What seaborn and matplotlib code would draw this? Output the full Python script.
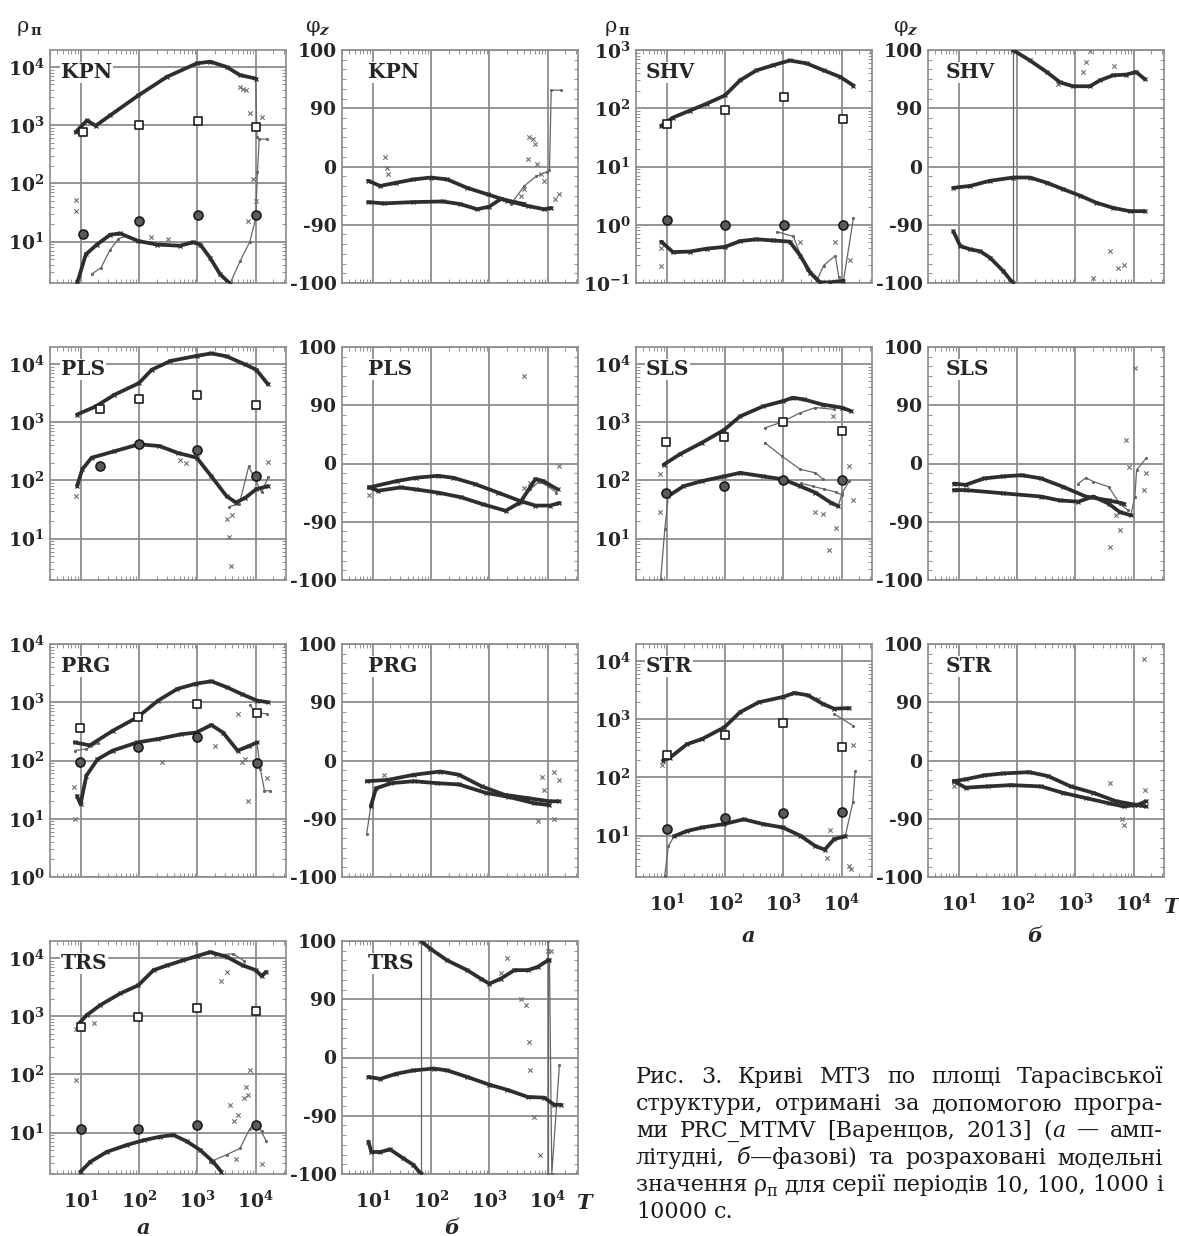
import numpy as np
import matplotlib
matplotlib.use("Agg")
import matplotlib.pyplot as plt
import seaborn as sns
from matplotlib.ticker import FixedLocator, NullFormatter, FixedFormatter, LogLocator, MultipleLocator

sns.set_style("white")
plt.rcParams["font.family"] = ["DejaVu Serif"]
plt.rcParams["mathtext.fontset"] = "custom"
plt.rcParams["mathtext.rm"] = "DejaVu Serif:bold"
plt.rcParams["mathtext.it"] = "DejaVu Serif:italic:bold"
plt.rcParams["mathtext.bf"] = "DejaVu Serif:bold"
plt.rcParams["mathtext.default"] = "rm"

# ---------------- data (log10 T, log10 rho) / (log10 T, phase deg) -------------
KPN_RHO_A = [(0.915, 2.88), (1.11, 3.08), (1.26, 2.99), (1.51, 3.17), (1.99, 3.51), (2.48, 3.83), (2.99, 4.06),
             (3.22, 4.09), (3.5, 4.0), (3.73, 3.86), (4.0, 3.8)]
KPN_RHO_B = [(0.94, 0.28), (1.09, 0.78), (1.28, 0.95), (1.51, 1.12), (1.68, 1.14), (1.99, 1.01), (2.31, 0.95),
             (2.70, 0.93), (2.93, 0.99), (3.05, 0.95), (3.22, 0.72), (3.39, 0.44), (3.56, 0.28)]
KPN_RHO_THIN1 = [(3.56, 0.28), (3.73, 0.66), (3.9, 1.0), (4.0, 1.4), (4.03, 2.2), (4.06, 2.76), (4.2, 2.76)]
KPN_RHO_THIN2 = [(1.2, 0.45), (1.35, 0.55), (1.5, 0.85), (1.65, 1.05), (1.8, 1.1)]
KPN_RHO_THIN3 = [(4.0, 3.8), (4.02, 2.8)]
KPN_RHO_PTS = [(0.915, 1.71), (0.915, 1.53), (3.95, 2.07), (4.0, 1.7), (3.87, 1.36), (3.9, 3.2), (4.1, 3.14),
               (3.84, 3.6), (3.78, 3.62), (3.73, 3.65), (2.2, 1.08), (2.5, 1.05)]
KPN_SQ_T = [1.05, 2.0, 3.01, 4.01]
KPN_SQ = [2.88, 3.0, 3.07, 2.97]
KPN_CI = [1.13, 1.36, 1.45, 1.45]
KPN_PH_A = [(0.925, -22), (1.13, -30), (1.41, -25), (1.70, -20), (2.0, -17), (2.28, -20), (2.62, -33), (2.97, -43),
            (3.31, -53), (3.66, -61), (3.94, -66), (4.06, -64)]
KPN_PH_B = [(0.925, -55), (1.2, -57), (1.7, -55), (2.2, -54), (2.5, -58), (2.79, -66), (3.0, -62), (3.2, -50),
            (3.43, -55), (3.6, -58)]
KPN_PH_THIN = [(3.37, -58), (3.6, -30), (3.8, -15), (3.99, -8), (4.03, -5), (4.06, 118), (4.22, 118)]
KPN_PH_PTS = [(1.21, 14), (1.24, -2), (1.27, -12), (3.68, 45), (3.74, 42), (3.79, 35), (3.66, 11), (3.82, 4),
              (3.88, -12), (3.94, -22), (4.2, -42), (4.12, -50), (3.6, -35), (3.55, -45)]

PLS_RHO_A = [(0.94, 3.13), (1.26, 3.27), (1.58, 3.47), (2.0, 3.67), (2.22, 3.9), (2.54, 4.05), (3.0, 4.14),
             (3.24, 4.18), (3.5, 4.13), (3.82, 3.99), (4.01, 3.9), (4.21, 3.65)]
PLS_RHO_B = [(0.94, 1.9), (1.03, 2.19), (1.19, 2.39), (1.58, 2.5), (2.0, 2.62), (2.35, 2.59), (2.67, 2.47),
             (2.99, 2.39), (3.24, 2.07), (3.5, 1.73), (3.66, 1.62), (3.82, 1.7), (4.01, 1.85), (4.21, 1.9)]
PLS_RHO_THIN1 = [(3.55, 1.55), (3.72, 1.6), (3.88, 2.24), (4.0, 2.0), (4.1, 1.8), (4.21, 2.05)]
PLS_RHO_PTS = [(0.92, 1.73), (3.55, 1.02), (3.58, 0.53), (4.21, 2.31), (3.5, 1.33), (3.6, 1.4), (2.7, 2.35), (2.8, 2.3)]
PLS_SQ_T = [1.33, 2.0, 3.0, 4.01]
PLS_SQ = [3.23, 3.39, 3.47, 3.29]
PLS_CI = [2.25, 2.63, 2.53, 2.07]
PLS_PH_A = [(0.94, -37), (1.42, -27), (1.74, -22), (2.12, -19), (2.38, -22), (2.76, -32), (3.15, -45), (3.53, -58),
            (3.79, -65), (4.04, -65), (4.2, -61)]
PLS_PH_B = [(0.94, -37), (1.1, -42), (1.48, -37), (1.74, -40), (2.12, -45), (2.51, -52), (2.89, -63), (3.28, -73),
            (3.53, -60), (3.79, -24), (3.92, -27), (4.17, -40)]
PLS_PH_THIN = [(3.5, -62), (3.7, -40), (3.85, -28), (4.0, -35), (4.15, -45)]
PLS_PH_PTS = [(3.6, 135), (4.2, -4), (3.6, -38), (3.7, -30), (0.94, -48)]

PRG_RHO_A = [(0.9, 2.31), (1.16, 2.26), (1.55, 2.51), (1.97, 2.74), (2.33, 3.03), (2.66, 3.23), (2.98, 3.32),
             (3.24, 3.36), (3.5, 3.26), (3.76, 3.14), (4.02, 3.03), (4.21, 3.0)]
PRG_RHO_B = [(0.94, 1.39), (1.0, 1.25), (1.1, 1.74), (1.29, 2.02), (1.55, 2.17), (1.97, 2.31), (2.33, 2.37),
             (2.72, 2.45), (2.98, 2.48), (3.24, 2.61), (3.44, 2.48), (3.69, 2.17), (3.89, 2.25), (4.02, 2.31)]
PRG_RHO_THIN1 = [(0.9, 2.17), (1.1, 2.2), (1.3, 2.3)]
PRG_RHO_THIN2 = [(3.9, 2.95), (4.0, 2.82), (4.2, 2.8)]
PRG_RHO_THIN3 = [(4.02, 2.31), (4.08, 1.85), (4.15, 1.48), (4.25, 1.48)]
PRG_RHO_PTS = [(0.9, 0.99), (2.4, 1.97), (3.76, 1.97), (3.86, 1.3), (4.2, 1.7), (3.31, 2.25), (3.82, 2.02),
               (0.88, 1.55), (3.7, 2.8)]
PRG_SQ_T = [0.99, 1.99, 3.0, 4.02]
PRG_SQ = [2.55, 2.74, 2.97, 2.81]
PRG_CI = [1.97, 2.24, 2.41, 1.95]
PRG_PH_A = [(0.9, -32), (1.26, -30), (1.71, -22), (2.16, -17), (2.48, -22), (2.87, -40), (3.26, -53), (3.65, -58),
            (4.03, -63), (4.19, -63)]
PRG_PH_B = [(0.97, -71), (1.06, -43), (1.32, -35), (1.71, -32), (2.1, -35), (2.48, -37), (2.94, -50),
            (3.32, -56), (3.77, -66), (4.03, -69)]
PRG_PH_THIN = [(0.9, -113), (0.97, -71)]
PRG_PH_PTS = [(4.1, -17), (3.84, -93), (4.1, -90), (1.2, -22), (3.94, -45), (3.9, -25), (4.2, -30)]

TRS_RHO_A = [(0.97, 2.87), (1.11, 3.02), (1.34, 3.19), (1.68, 3.39), (1.99, 3.53), (2.25, 3.79), (2.48, 3.87),
             (2.76, 3.96), (2.99, 4.03), (3.22, 4.1), (3.5, 4.02), (3.78, 3.87), (4.0, 3.79), (4.1, 3.69), (4.18, 3.76)]
TRS_RHO_THIN1 = [(3.3, 4.05), (3.61, 4.07), (3.8, 3.95)]
TRS_RHO_B = [(1.0, 0.33), (1.17, 0.5), (1.45, 0.67), (1.8, 0.79), (2.08, 0.87), (2.36, 0.93), (2.59, 0.96),
             (2.82, 0.85), (3.05, 0.7), (3.27, 0.5), (3.41, 0.33)]
TRS_RHO_THIN2 = [(3.22, 0.5), (3.5, 0.62), (3.73, 0.73), (3.9, 1.07), (4.0, 1.19), (4.1, 1.02), (4.18, 0.85)]
TRS_RHO_PTS = [(0.93, 1.9), (3.9, 2.07), (3.84, 1.79), (3.87, 1.65), (3.56, 1.47), (3.62, 1.2), (3.7, 1.3),
               (3.8, 1.6), (3.67, 0.55), (4.1, 0.47), (0.92, 2.78), (1.23, 2.88), (3.4, 3.6), (3.5, 3.75)]
TRS_SQ_T = [1.0, 1.99, 3.0, 4.0]
TRS_SQ = [2.81, 2.99, 3.14, 3.09]
TRS_CI = [1.07, 1.07, 1.13, 1.13]
TRS_PH_A1 = [(0.93, -130), (0.98, -146), (1.13, -146), (1.3, -142), (1.53, -156), (1.7, -166), (1.83, -180)]
TRS_PH_A2 = [(1.83, 180), (1.99, 168), (2.28, 150), (2.62, 135), (2.85, 122), (3.0, 114), (3.2, 122), (3.43, 135),
             (3.66, 135), (3.83, 140), (4.0, 150), (4.03, 150)]
TRS_PH_WRAP1 = [(1.83, -180), (1.83, 180)]
TRS_PH_WRAP2 = [(4.03, 150), (4.07, -180), (4.2, -12)]
TRS_PH_WRAP3 = [(4.0, 180), (4.0, -180)]
TRS_PH_B = [(0.93, -30), (1.13, -33), (1.41, -25), (1.7, -20), (2.05, -17), (2.28, -20), (2.62, -30), (3.0, -42),
            (3.31, -50), (3.66, -61), (3.94, -62), (4.11, -73), (4.23, -73)]
TRS_PH_PTS = [(3.31, 153), (3.54, 91), (3.68, 24), (3.7, -20), (3.77, -92), (3.86, -151), (4.0, 164), (4.06, 164),
              (3.63, 81), (3.2, 130)]

SHV_RHO_A = [(0.91, 1.70), (1.11, 1.84), (1.40, 1.96), (1.69, 2.08), (2.0, 2.22), (2.26, 2.48), (2.54, 2.65),
             (2.83, 2.74), (3.11, 2.82), (3.4, 2.77), (3.69, 2.65), (3.97, 2.54), (4.2, 2.39)]
SHV_RHO_B = [(0.91, -0.29), (1.11, -0.47), (1.4, -0.46), (1.69, -0.41), (2.0, -0.38), (2.26, -0.28), (2.54, -0.25),
             (2.83, -0.27), (3.11, -0.29), (3.29, -0.53), (3.46, -0.82), (3.63, -0.99), (3.8, -0.99), (4.03, -0.96)]
SHV_RHO_THIN1 = [(2.89, -0.12), (3.17, -0.2), (3.4, -0.78), (3.57, -0.97), (3.69, -0.7), (3.89, -0.53), (3.95, -0.9)]
SHV_RHO_THIN2 = [(4.03, -0.96), (4.2, 0.11)]
SHV_RHO_PTS = [(0.91, -0.7), (3.89, -0.3), (3.29, -0.29), (0.9, -0.4), (4.15, -0.6)]
SHV_SQ_T = [1.0, 2.0, 3.02, 4.02]
SHV_SQ = [1.73, 1.97, 2.19, 1.81]
SHV_CI = [0.08, 0.0, 0.0, 0.0]
SHV_PH_A1 = [(0.91, -100), (1.03, -123), (1.2, -128), (1.37, -131), (1.54, -141), (1.77, -162), (1.93, -180)]
SHV_PH_A2 = [(1.93, 180), (2.22, 164), (2.51, 146), (2.74, 130), (2.96, 124), (3.25, 124), (3.42, 133), (3.65, 141),
             (3.87, 142), (4.04, 146), (4.19, 135)]
SHV_PH_WRAP = [(1.93, -180), (1.93, 180)]
SHV_PH_B = [(0.91, -33), (1.2, -30), (1.54, -22), (1.94, -17), (2.22, -17), (2.51, -25), (2.79, -35), (3.08, -45),
            (3.36, -56), (3.65, -64), (3.93, -69), (4.19, -69)]
SHV_PH_PTS = [(3.13, 146), (3.19, 161), (3.25, 179), (3.59, -131), (3.73, -157), (3.83, -152), (3.3, -172),
              (3.67, 156), (2.7, 128)]

SLS_RHO_A = [(0.95, 2.27), (1.23, 2.45), (1.61, 2.65), (1.99, 2.87), (2.26, 3.1), (2.65, 3.27), (2.99, 3.36),
             (3.16, 3.42), (3.35, 3.39), (3.68, 3.3), (4.0, 3.25), (4.16, 3.19)]
SLS_RHO_THIN1 = [(2.68, 2.9), (2.97, 3.0), (3.29, 3.16), (3.55, 3.25), (3.87, 3.22)]
SLS_RHO_THIN2 = [(2.68, 2.65), (2.97, 2.42), (3.29, 2.19), (3.55, 2.13), (3.68, 2.02)]
SLS_RHO_B = [(1.03, 1.73), (1.29, 1.9), (1.61, 1.99), (1.99, 2.07), (2.26, 2.13),
             (2.65, 2.07), (2.99, 2.02), (3.29, 1.9), (3.55, 1.79), (3.81, 1.62), (3.94, 1.56)]
SLS_RHO_THIN3 = [(3.3, 1.95), (3.5, 1.9), (3.7, 1.85), (3.9, 1.8), (4.0, 1.75)]
SLS_RHO_THIN4 = [(0.9, 0.3), (0.97, 1.16), (1.03, 1.73)]
SLS_RHO_THIN5 = [(3.94, 1.56), (4.01, 1.79), (4.13, 1.99)]
SLS_RHO_PTS = [(0.89, 1.45), (0.89, 2.11), (3.79, 0.8), (3.9, 1.18), (4.13, 2.25), (4.19, 1.67), (3.55, 1.45),
               (3.68, 1.42), (3.85, 3.1)]
SLS_SQ_T = [0.99, 1.98, 3.0, 4.01]
SLS_SQ = [2.66, 2.75, 3.01, 2.85]
SLS_CI = [1.79, 1.91, 2.0, 2.0]
SLS_PH_A = [(0.92, -31), (1.12, -33), (1.44, -23), (1.76, -20), (2.08, -18), (2.41, -23), (2.79, -36), (3.18, -51),
            (3.57, -57), (3.83, -62)]
SLS_PH_B = [(0.92, -41), (1.12, -41), (1.76, -46), (2.41, -51), (2.73, -57), (3.05, -59), (3.31, -51), (3.57, -62),
            (3.76, -75), (3.95, -80)]
SLS_PH_THIN = [(3.05, -31), (3.18, -22), (3.31, -28), (3.57, -36), (3.76, -62), (3.9, -72)]
SLS_PH_THIN2 = [(3.95, -80), (4.02, -51), (4.05, -10), (4.21, 8)]
SLS_PH_PTS = [(4.02, 148), (3.86, 36), (3.92, -5), (3.6, -129), (3.76, -103), (4.18, -41), (4.21, -15), (3.7, -80)]

STR_RHO_A = [(0.94, 2.29), (1.06, 2.34), (1.35, 2.57), (1.61, 2.66), (1.99, 2.86), (2.26, 3.12), (2.58, 3.29),
             (2.99, 3.38), (3.19, 3.45), (3.42, 3.41), (3.68, 3.26), (3.87, 3.18), (4.13, 3.19)]
STR_RHO_THIN1 = [(3.87, 3.09), (4.19, 2.89)]
STR_RHO_B = [(1.13, 0.99), (1.35, 1.08), (1.61, 1.14), (1.99, 1.2), (2.32, 1.28),
             (2.65, 1.2), (2.99, 1.14), (3.29, 1.0), (3.55, 0.82), (3.71, 0.76), (3.87, 0.94), (4.06, 0.99)]
STR_RHO_THIN2 = [(0.97, 0.31), (1.03, 0.82), (1.13, 0.99)]
STR_RHO_THIN3 = [(4.06, 0.99), (4.19, 1.57), (4.23, 2.11)]
STR_RHO_PTS = [(4.19, 2.56), (4.13, 0.48), (4.16, 0.42), (3.74, 0.62), (3.8, 1.1), (0.92, 2.22), (3.6, 3.35)]
STR_SQ_T = [1.0, 2.0, 2.99, 4.0]
STR_SQ = [2.39, 2.73, 2.93, 2.53]
STR_CI = [1.12, 1.31, 1.39, 1.4]
STR_PH_A = [(0.92, -32), (1.12, -29), (1.44, -23), (1.76, -20), (2.21, -18), (2.53, -24), (2.92, -40), (3.31, -50),
            (3.7, -63), (4.01, -68), (4.21, -71)]
STR_PH_B = [(0.92, -32), (1.12, -42), (1.5, -40), (1.89, -38), (2.41, -40), (2.79, -50), (3.18, -58), (3.57, -66),
            (3.83, -71), (4.08, -68), (4.21, -63)]
STR_PH_PTS = [(4.18, 157), (3.84, -99), (3.6, -35), (4.2, -45), (3.8, -90), (0.92, -40)]

PHASE_TICKS = [-180, -90, 0, 90, 180]
PHASE_LABELS = ["-100", "-90", "0", "90", "100"]
X_TICKS = [10, 100, 1000, 10000]
X_LABELS = [r"$10^{1}$", r"$10^{2}$", r"$10^{3}$", r"$10^{4}$"]

CAPTION = [
    "Рис. 3. Криві МТЗ по площі Тарасівської",
    "структури, отримані за допомогою програ-",
    "ми PRC_MTMV [Варенцов, 2013] (*а* — амп-",
    "літудні, *б*—фазові) та розраховані модельні",
    "значення ρ~п для серії періодів 10, 100, 1000 і",
    "10000 с.",
]

# ---------------- figure ----------------
W, H = 1179, 1236
fig = plt.figure(figsize=(W / 100, H / 100), dpi=100)
COL_L = [50, 342, 636, 928]
ROW_T = [50, 347, 644, 941]
AX_W, AX_H = 236, 233
GRID = "#8c8c8c"
DARK = "#2e2e2e"
TICK_FS = 13.5


def add_ax(col, row):
    l, t = COL_L[col], ROW_T[row]
    return fig.add_axes([l / W, 1 - (t + AX_H) / H, AX_W / W, AX_H / H])


def style_ax(ax, kind, ylim, xlabels):
    ax.set_xscale("log")
    ax.set_xlim(3.0, 3.3e4)
    ax.xaxis.set_major_locator(FixedLocator(X_TICKS))
    ax.xaxis.set_minor_locator(LogLocator(base=10, subs=np.arange(2, 10) * 1.0, numticks=50))
    if xlabels:
        ax.xaxis.set_major_formatter(FixedFormatter(X_LABELS))
    else:
        ax.xaxis.set_major_formatter(NullFormatter())
    ax.xaxis.set_minor_formatter(NullFormatter())
    if kind == "rho":
        ax.set_yscale("log")
        ax.set_ylim(*ylim)
        lo, hi = int(np.ceil(np.log10(ylim[0]) - 1e-9)), int(np.floor(np.log10(ylim[1]) + 1e-9))
        decs = list(range(lo, hi + 1))
        ax.yaxis.set_major_locator(FixedLocator([10.0 ** d for d in decs]))
        ax.yaxis.set_major_formatter(FixedFormatter([r"$10^{%d}$" % d for d in decs]))
        ax.yaxis.set_minor_locator(LogLocator(base=10, subs=np.arange(2, 10) * 1.0, numticks=50))
        ax.yaxis.set_minor_formatter(NullFormatter())
    else:
        ax.set_ylim(-180, 180)
        ax.yaxis.set_major_locator(FixedLocator(PHASE_TICKS))
        ax.yaxis.set_major_formatter(FixedFormatter(PHASE_LABELS))
        ax.yaxis.set_minor_locator(MultipleLocator(15))
    ax.grid(True, which="major", color=GRID, lw=1.3)
    ax.grid(False, which="minor")
    ax.tick_params(which="major", length=0, labelsize=TICK_FS, pad=4)
    ax.tick_params(axis="x", which="major", pad=12)
    ax.tick_params(which="minor", direction="in", length=3, width=0.7, color="#909090",
                   top=True, right=True, bottom=True, left=True)
    for lab in ax.get_yticklabels() + ax.get_xticklabels():
        lab.set_fontweight("bold")
    for s in ax.spines.values():
        s.set_color("#8a8a8a")
        s.set_linewidth(1.2)


def xy(pts, kind):
    a = np.array(pts, dtype=float)
    x = 10 ** a[:, 0]
    y = 10 ** a[:, 1] if kind == "rho" else a[:, 1]
    return x, y


def main_line(ax, pts, kind):
    x, y = xy(pts, kind)
    sns.lineplot(x=x, y=y, sort=False, estimator=None, ax=ax, color=DARK, lw=2.7,
                 marker="x", markersize=3.5, markeredgewidth=0.9, markeredgecolor=DARK, zorder=4)


def thin_line(ax, pts, kind):
    x, y = xy(pts, kind)
    sns.lineplot(x=x, y=y, sort=False, estimator=None, ax=ax, color="#666666", lw=0.9,
                 marker=".", markersize=3, markeredgecolor="#666666", zorder=3)


def points(ax, pts, kind):
    x, y = xy(pts, kind)
    sns.scatterplot(x=x, y=y, ax=ax, marker="x", s=10, color="#6f6f6f", linewidth=0.8, zorder=3)


def model(ax, t, sq, ci):
    tt = 10 ** np.array(t)
    sns.scatterplot(x=tt, y=10 ** np.array(sq), ax=ax, marker="s", s=34, color="white",
                    edgecolor="#1e1e1e", linewidth=1.2, zorder=6)
    sns.scatterplot(x=tt, y=10 ** np.array(ci), ax=ax, marker="o", s=42,
                    color="#5a5a5a", edgecolor="#1a1a1a", linewidth=1.2, zorder=6)


def label(ax, name, xf):
    ax.text(xf, 0.905, name, transform=ax.transAxes, ha="left", va="center", fontsize=14.5,
            fontweight="bold", zorder=8,
            bbox=dict(facecolor="white", edgecolor="none", pad=0.5))


STATIONS = [
    ("KPN", 0, 0, (1.95, 1.95e4), [KPN_RHO_A, KPN_RHO_B], [KPN_RHO_THIN1, KPN_RHO_THIN2, KPN_RHO_THIN3], KPN_RHO_PTS,
     KPN_SQ_T, KPN_SQ, KPN_CI, [KPN_PH_A, KPN_PH_B], [KPN_PH_THIN], KPN_PH_PTS),
    ("PLS", 0, 1, (1.95, 1.95e4), [PLS_RHO_A, PLS_RHO_B], [PLS_RHO_THIN1], PLS_RHO_PTS,
     PLS_SQ_T, PLS_SQ, PLS_CI, [PLS_PH_A, PLS_PH_B], [PLS_PH_THIN], PLS_PH_PTS),
    ("PRG", 0, 2, (1.0, 1.0e4), [PRG_RHO_A, PRG_RHO_B], [PRG_RHO_THIN1, PRG_RHO_THIN2, PRG_RHO_THIN3], PRG_RHO_PTS,
     PRG_SQ_T, PRG_SQ, PRG_CI, [PRG_PH_A, PRG_PH_B], [PRG_PH_THIN], PRG_PH_PTS),
    ("TRS", 0, 3, (1.95, 1.95e4), [TRS_RHO_A, TRS_RHO_B], [TRS_RHO_THIN1, TRS_RHO_THIN2], TRS_RHO_PTS,
     TRS_SQ_T, TRS_SQ, TRS_CI, [TRS_PH_A1, TRS_PH_A2, TRS_PH_B], [TRS_PH_WRAP1, TRS_PH_WRAP2, TRS_PH_WRAP3],
     TRS_PH_PTS),
    ("SHV", 2, 0, (0.1, 1.0e3), [SHV_RHO_A, SHV_RHO_B], [SHV_RHO_THIN1, SHV_RHO_THIN2], SHV_RHO_PTS,
     SHV_SQ_T, SHV_SQ, SHV_CI, [SHV_PH_A1, SHV_PH_A2, SHV_PH_B], [SHV_PH_WRAP], SHV_PH_PTS),
    ("SLS", 2, 1, (1.95, 1.95e4), [SLS_RHO_A, SLS_RHO_B],
     [SLS_RHO_THIN1, SLS_RHO_THIN2, SLS_RHO_THIN3, SLS_RHO_THIN4, SLS_RHO_THIN5], SLS_RHO_PTS,
     SLS_SQ_T, SLS_SQ, SLS_CI, [SLS_PH_A, SLS_PH_B], [SLS_PH_THIN, SLS_PH_THIN2], SLS_PH_PTS),
    ("STR", 2, 2, (1.95, 1.95e4), [STR_RHO_A, STR_RHO_B], [STR_RHO_THIN1, STR_RHO_THIN2, STR_RHO_THIN3], STR_RHO_PTS,
     STR_SQ_T, STR_SQ, STR_CI, [STR_PH_A, STR_PH_B], [], STR_PH_PTS),
]

for (name, col, row, ylim, rmain, rthin, rpts, sqt, sq, ci, pmain, pthin, ppts) in STATIONS:
    bottom = (col == 0 and row == 3) or (col == 2 and row == 2)
    ax = add_ax(col, row)
    for c in rthin:
        thin_line(ax, c, "rho")
    points(ax, rpts, "rho")
    for c in rmain:
        main_line(ax, c, "rho")
    model(ax, sqt, sq, ci)
    style_ax(ax, "rho", ylim, bottom)
    ax.set_xlabel("")
    ax.set_ylabel("")
    label(ax, name, 0.047 if col == 0 else 0.042)

    axp = add_ax(col + 1, row)
    for c in pthin:
        thin_line(axp, c, "ph")
    points(axp, ppts, "ph")
    for c in pmain:
        main_line(axp, c, "ph")
    style_ax(axp, "ph", None, bottom)
    axp.set_xlabel("")
    axp.set_ylabel("")
    label(axp, name, 0.11 if col == 0 else 0.075)

# ---------------- annotation overlay ----------------
ov = fig.add_axes([0, 0, 1, 1])
ov.set_xlim(0, W)
ov.set_ylim(H, 0)
ov.axis("off")
ov.patch.set_visible(False)

for x0 in (17, 605):
    ov.text(x0, 27, "ρ", fontsize=15, ha="left", va="center")
    ov.text(x0 + 13, 31, "п", fontsize=10.5, fontweight="bold", ha="left", va="center")
for x0 in (305, 893):
    ov.text(x0, 27, "φ", fontsize=15, ha="left", va="center")
    ov.text(x0 + 14, 31, "z", fontsize=11, fontweight="bold", style="italic", ha="left", va="center")

for (x0, y0, s) in [(143, 1228, "а"), (452, 1228, "б"), (748, 936, "а"), (1035, 936, "б"),
                    (584, 1203, "T"), (1171, 907, "T")]:
    ov.text(x0, y0, s, fontsize=15, fontweight="bold", style="italic", ha="center", va="center")

# caption with justification
CAP_FS = 16.0
CAP_L, CAP_R = 636, 1163
BASES = [1083, 1110, 1137, 1164, 1191, 1218]
renderer = fig.canvas.get_renderer()


def parse_word(w):
    segs, buf, italic, i = [], "", False, 0
    while i < len(w):
        c = w[i]
        if c == "*":
            if buf:
                segs.append((buf, "i" if italic else "n"))
                buf = ""
            italic = not italic
        elif c == "~":
            if buf:
                segs.append((buf, "i" if italic else "n"))
                buf = ""
            segs.append((w[i + 1], "s"))
            i += 1
        else:
            buf += c
        i += 1
    if buf:
        segs.append((buf, "i" if italic else "n"))
    return segs


def make_seg(txt, st, fs):
    kw = dict(fontsize=fs, ha="left", va="baseline", color="#1a1a1a")
    if st == "i":
        kw["style"] = "italic"
    if st == "s":
        kw["fontsize"] = fs * 0.72
    t = ov.text(0, 0, txt, **kw)
    wpx = t.get_window_extent(renderer).width
    return t, wpx, st


def space_width(fs):
    a = ov.text(0, 0, "a a", fontsize=fs)
    b = ov.text(0, 0, "aa", fontsize=fs)
    w = a.get_window_extent(renderer).width - b.get_window_extent(renderer).width
    a.remove()
    b.remove()
    return w


for li, line in enumerate(CAPTION):
    fs = CAP_FS
    while True:
        words = [[make_seg(txt, st, fs) for (txt, st) in parse_word(w)] for w in line.split(" ")]
        widths = [sum(s[1] for s in wd) for wd in words]
        sw = space_width(fs)
        if sum(widths) + sw * 0.6 * (len(words) - 1) <= CAP_R - CAP_L or fs < 10:
            break
        for wd in words:
            for (t, _, _) in wd:
                t.remove()
        fs -= 0.3
    total = sum(widths)
    if li < len(CAPTION) - 1 and len(words) > 1:
        gap = (CAP_R - CAP_L - total) / (len(words) - 1)
    else:
        gap = sw
    x = CAP_L
    y = BASES[li]
    for wd, wdt in zip(words, widths):
        xx = x
        for (t, wpx, st) in wd:
            t.set_position((xx, y + (5 if st == "s" else 0)))
            xx += wpx
        x += wdt + gap

fig.savefig("out.png", dpi=100)
